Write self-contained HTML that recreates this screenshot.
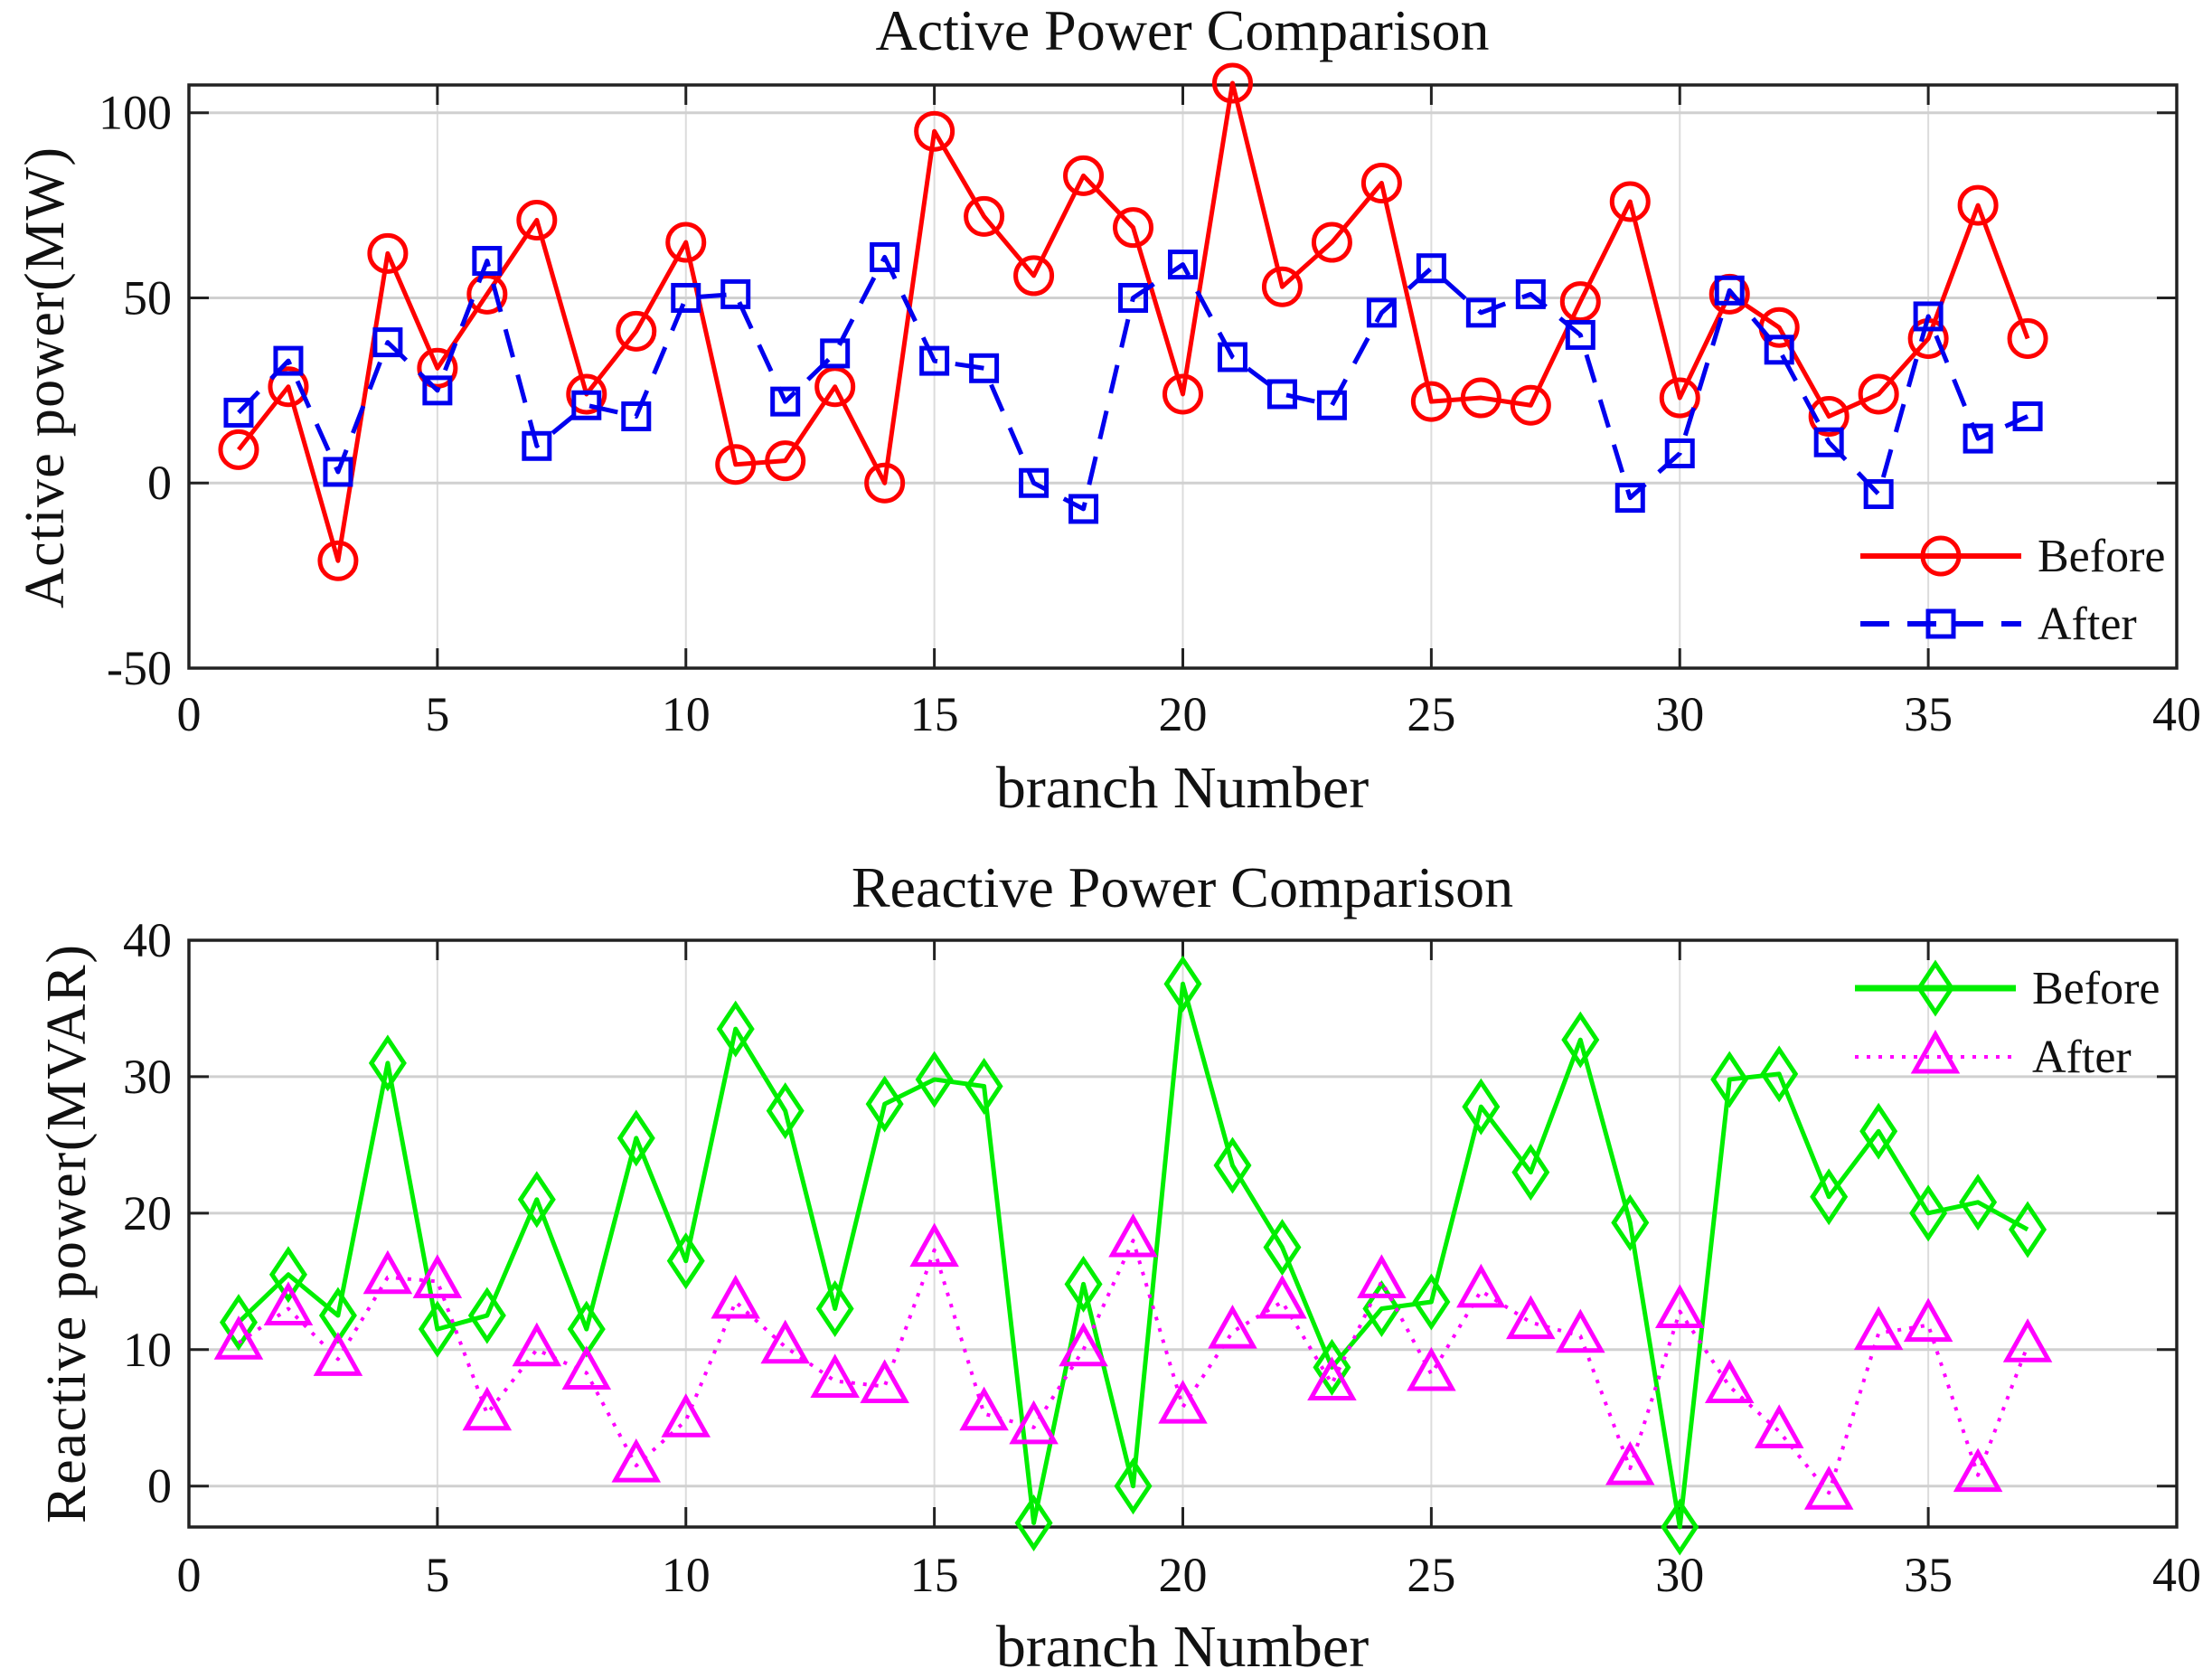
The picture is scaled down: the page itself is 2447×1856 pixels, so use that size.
<!DOCTYPE html>
<html><head><meta charset="utf-8"><style>
html,body{margin:0;padding:0;background:#fff;}
svg{display:block;font-family:"Liberation Serif",serif;}
</style></head><body>
<svg id="c" width="2447" height="1856" viewBox="0 0 2447 1856" xmlns="http://www.w3.org/2000/svg"></svg>
<script>
const categories = Array.from({length:37},(_, i)=>i+1);
const activeBefore = [9,26,-21,62,31,51,71,24,41,65,5,6,26,0,95,72,56,83,69,24,108,53,65,81,22,23,21,49,76,23,51,42,18,24,39,75,39];
const activeAfter = [19,33,3,38,25,60,10,21,18,50,51,22,35,61,33,31,0,-7,50,59,34,24,21,46,58,46,51,40,-4,8,52,36,11,-3,45,12,18];
const reactiveBefore = [12,15.5,12.5,31,11.5,12.5,21,11.5,25.5,16.5,33.5,27.5,13,28,29.8,29.3,-2.7,14.8,0,36.8,23.5,17.5,8.7,13,13.5,27.8,23,32.7,19.3,-3,29.8,30.2,21.2,26,20,20.8,18.8];
const reactiveAfter = [10.5,13,9.3,15.3,15,5.3,10,8.3,1.5,4.8,13.5,10.2,7.7,7.3,17.3,5.3,4.3,10,18,5.8,11.3,13.5,7.5,15,8.2,14.3,12,11,1.3,12.8,7.3,4,-0.5,11.2,11.8,0.8,10.3];
const xTicks = [0,5,10,15,20,25,30,35,40];
const yTicksTop = [-50,0,50,100];
const yTicksBottom = [0,10,20,30,40];

const NS="http://www.w3.org/2000/svg";
const svg=document.getElementById('c');
function mk(tag,attrs,parent){const e=document.createElementNS(NS,tag);for(const k in attrs)e.setAttribute(k,attrs[k]);(parent||svg).appendChild(e);return e;}

function panel(cfg){
  const g=mk('g',{});
  
  
  const X0=209,X1=2408;
  const xs=v=>X0+(v-0)/40*(X1-X0);
  const ys=v=>cfg.Y1+(cfg.yMax-v)/(cfg.yMax-cfg.yMin)*(cfg.Y2-cfg.Y1);
  xTicks.forEach(t=>{ if(t>0&&t<40){const l=mk('line',{x1:xs(t),x2:xs(t),y1:cfg.Y1,y2:cfg.Y2,stroke:'#dcdcdc','stroke-width':2},g);}});
  cfg.yTicks.forEach(t=>{const l=mk('line',{x1:X0,x2:X1,y1:ys(t),y2:ys(t),stroke:'#d0d0d0','stroke-width':3},g);});
  xTicks.forEach(t=>{
    mk('line',{x1:xs(t),x2:xs(t),y1:cfg.Y2,y2:cfg.Y2-22,stroke:'#222','stroke-width':3},g);
    mk('line',{x1:xs(t),x2:xs(t),y1:cfg.Y1,y2:cfg.Y1+22,stroke:'#222','stroke-width':3},g);
    const tx=mk('text',{x:xs(t),y:cfg.xTickY,'font-size':54,'text-anchor':'middle',fill:'#111'},g);
    tx.textContent=t;
    
    
  });
  cfg.yTicks.forEach(t=>{
    mk('line',{x1:X0,x2:X0+22,y1:ys(t),y2:ys(t),stroke:'#222','stroke-width':3},g);
    mk('line',{x1:X1,x2:X1-22,y1:ys(t),y2:ys(t),stroke:'#222','stroke-width':3},g);
    const tx=mk('text',{x:190,y:ys(t)+18,'font-size':54,'text-anchor':'end',fill:'#111'},g);
    tx.textContent=t;
    
    
  });
  const box=mk('rect',{x:X0,y:cfg.Y1,width:X1-X0,height:cfg.Y2-cfg.Y1,fill:'none',stroke:'#222','stroke-width':3.5},g);
  
  
  cfg.series.forEach(s=>{
    const sg=mk('g',{},g);
    
    
    const pts=s.data.map((v,i)=>xs(categories[i])+','+ys(v)).join(' ');
    const pl=mk('polyline',{points:pts,fill:'none',stroke:s.color,'stroke-width':s.lw,'stroke-dasharray':s.dash||'none','stroke-linejoin':'round'},sg);
    
    
    s.data.forEach((v,i)=>{
      const m=marker(s.marker,xs(categories[i]),ys(v),s.color,sg);
      
      
    });
  });
  const ti=mk('text',{x:1308,y:cfg.titleY,'font-size':64,'text-anchor':'middle',fill:'#111'},g);
  ti.textContent=cfg.title;  
  const xl=mk('text',{x:1308,y:cfg.xLabelY,'font-size':66,'text-anchor':'middle',fill:'#111'},g);
  xl.textContent='branch Number';  
  const yl=mk('text',{x:0,y:0,'font-size':62,'text-anchor':'middle',fill:'#111',transform:`translate(${cfg.yLabelX},${cfg.yLabelCY}) rotate(-90)`,textLength:cfg.yLabelLen,lengthAdjust:'spacing'},g);
  yl.textContent=cfg.yLabel;  
  cfg.series.forEach((s,k)=>{
    const lg=mk('g',{},g);
    
    
    const ly=cfg.legY[k];
    mk('line',{x1:cfg.legX,x2:cfg.legX+178,y1:ly,y2:ly,stroke:s.color,'stroke-width':s.legLw||s.lw,'stroke-dasharray':s.dash||'none'},lg);
    marker(s.marker,cfg.legX+89,ly,s.color,lg);
    const t=mk('text',{x:cfg.legX+196,y:ly+17,'font-size':52,fill:'#111'},lg);
    t.textContent=s.label;
  });
}
function marker(type,x,y,c,p){
  if(type==='o') return mk('circle',{cx:x,cy:y,r:20,fill:'none',stroke:c,'stroke-width':5},p);
  if(type==='s') return mk('rect',{x:x-14,y:y-14,width:28,height:28,fill:'none',stroke:c,'stroke-width':5},p);
  if(type==='d') return mk('polygon',{points:`${x},${y-27} ${x+18},${y} ${x},${y+27} ${x-18},${y}`,fill:'none',stroke:c,'stroke-width':5},p);
  return mk('polygon',{points:`${x},${y-25} ${x+23},${y+16} ${x-23},${y+16}`,fill:'none',stroke:c,'stroke-width':5},p);
}
panel({name:'active-power-panel',Y1:94,Y2:739,yMin:-50,yMax:107.5,yTicks:yTicksTop,xTickY:808,titleY:55,xLabelY:893,
  yLabel:'Active power(MW)',yLabelX:70,yLabelCY:418,yLabelLen:510,title:'Active Power Comparison',
  legX:2058,legY:[615,690],
  series:[{name:'active-before',label:'Before',data:activeBefore,color:'#ff0000',lw:5,legLw:6,marker:'o'},
          {name:'active-after',label:'After',data:activeAfter,color:'#0000ee',lw:5,legLw:6,marker:'s',dash:'32 20'}]});
panel({name:'reactive-power-panel',Y1:1040,Y2:1689,yMin:-3,yMax:40,yTicks:yTicksBottom,xTickY:1760,titleY:1003,xLabelY:1843,
  yLabel:'Reactive power(MVAR)',yLabelX:94,yLabelCY:1365,yLabelLen:640,title:'Reactive Power Comparison',
  legX:2052,legY:[1093,1169],
  series:[{name:'reactive-before',label:'Before',data:reactiveBefore,color:'#00ee00',lw:5,legLw:7,marker:'d'},
          {name:'reactive-after',label:'After',data:reactiveAfter,color:'#ff00ff',lw:4,marker:'t',dash:'4 9'}]});
</script>
</body></html>
